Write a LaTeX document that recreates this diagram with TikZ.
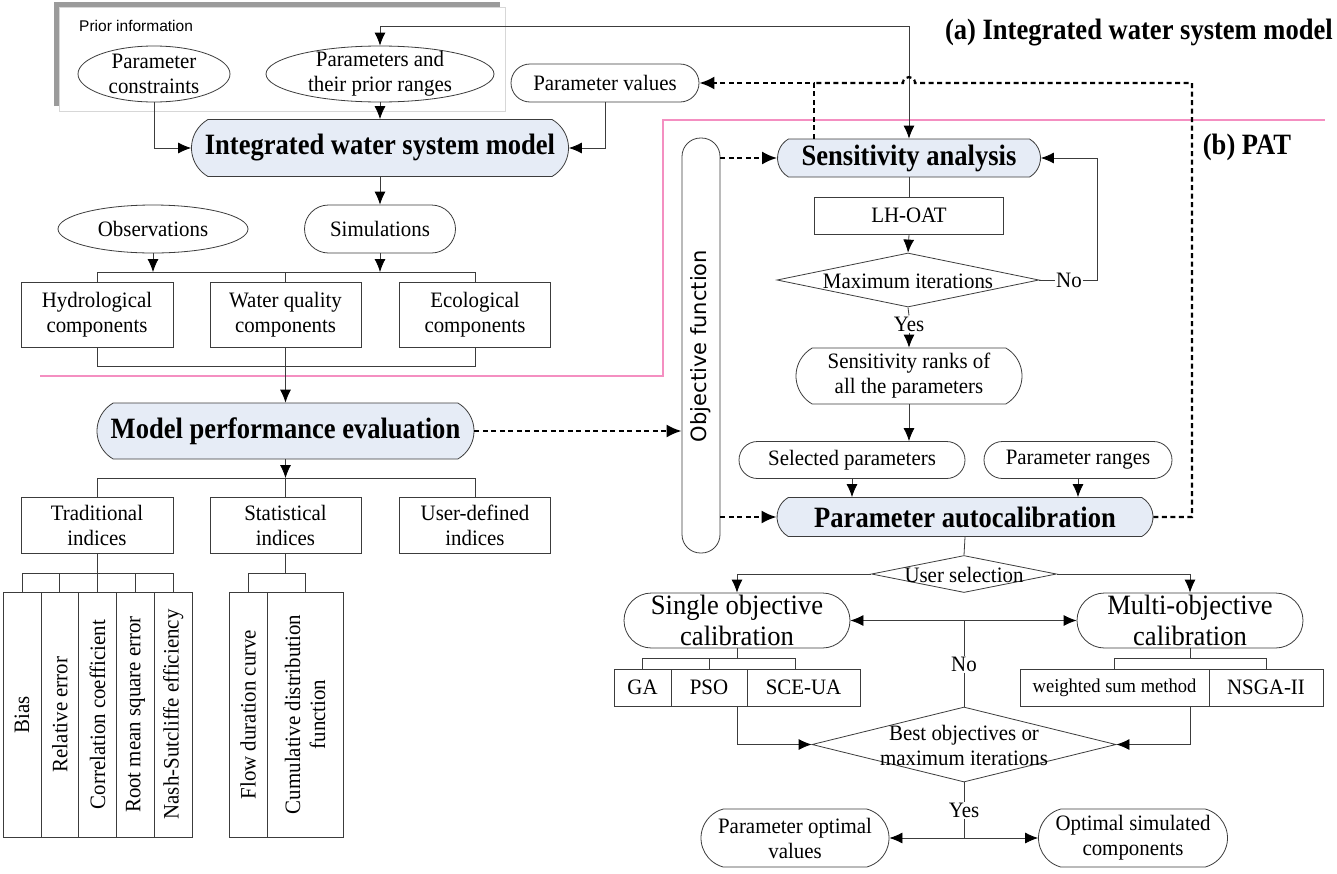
\documentclass[tikz,border=0pt]{standalone}
\usepackage{fontspec}
\setmainfont{Liberation Serif}
\newfontfamily\famBody[FakeStretch=0.95]{Liberation Serif}
\newfontfamily\famTitle[FakeStretch=0.9]{Liberation Serif}
\newfontfamily\famObj{DejaVu Sans}
\newfontfamily\famPrior{Liberation Sans}
\usetikzlibrary{shapes.geometric,shapes.misc,arrows.meta}
\definecolor{lgray}{RGB}{60,60,60}
\definecolor{bfill}{RGB}{230,236,246}
\definecolor{pinkc}{RGB}{244,143,193}
\definecolor{framegray}{RGB}{155,155,155}
\definecolor{thingray}{RGB}{215,215,215}
\tikzset{
  fbody/.style={font=\famBody\fontsize{22}{25}\selectfont},
  fbig/.style={font=\famBody\fontsize{28}{31}\selectfont},
  fsmall/.style={font=\famBody\fontsize{19.5}{22}\selectfont},
  ftitle/.style={font=\famTitle\bfseries\fontsize{29.5}{32}\selectfont},
  fobj/.style={font=\famObj\fontsize{21}{24}\selectfont},
  fprior/.style={font=\famPrior\fontsize{15.5}{18}\selectfont},
  base/.style={draw=lgray, line width=0.8pt, inner sep=0pt, align=center, fbody},
  rbox/.style={base, rectangle},
  ell/.style={base, ellipse},
  stad/.style={base, rounded rectangle, rounded rectangle arc length=180},
  stadB/.style={base, rounded rectangle, rounded rectangle arc length=120},
  titlebox/.style={base, rounded rectangle, rounded rectangle arc length=120, fill=bfill, ftitle},
  dia/.style={base, diamond},
  txt/.style={inner sep=0pt, align=center, fbody},
  lbl/.style={inner sep=1pt, fill=white, fbody},
  tline/.style={draw=lgray, line width=0.8pt},
  arr/.style={tline, -{Latex[length=13pt,width=11pt,color=black]}},
  arrtwo/.style={tline, {Latex[length=13pt,width=11pt,color=black]}-{Latex[length=13pt,width=11pt,color=black]}},
  dsh/.style={draw=black, line width=2.2pt, dash pattern=on 5pt off 3.5pt},
  darr/.style={dsh, -{Latex[length=15pt,width=13pt]}},
  pinkline/.style={draw=pinkc, line width=2.6pt},
}
\begin{document}
\begin{tikzpicture}[x=1pt,y=-1pt]
\useasboundingbox[fill=white] (0,0) rectangle (1337,873);

% ---- prior information frame
\draw[thingray, line width=0.8pt] (59,7.5) rectangle (505,111);
\draw[framegray, line width=5pt] (56,106) -- (56,4.5) -- (500,4.5);
\node[fprior, anchor=west, inner sep=0pt] (prior) at (79,26) {Prior information};

% ---- titles
\node[ftitle, anchor=east, inner sep=0pt] (ta) at (1333,33) {(a) Integrated water system model};
\node[ftitle, inner sep=0pt] (tb) at (1247,147) {(b) PAT};

% ---- pink separator
\draw[pinkline] (40,376) -- (663,376) -- (663,120) -- (1325,120);

% ---- part (a)
\node[ell, minimum width=152pt, minimum height=56pt] (pc) at (154,74) {};
\node[txt] (pct) at (pc) {Parameter\\constraints};
\node[ell, minimum width=228pt, minimum height=56pt] (pp) at (380,74) {};
\node[txt] (ppt) at (pp) {Parameters and\\their prior ranges};
\node[stad, minimum width=188pt, minimum height=38pt] (pv) at (605,83) {Parameter values};
\node[titlebox, minimum width=377pt, minimum height=57pt] (iwsm) at (380,148) {Integrated water system model};

\node[ell, minimum width=190pt, minimum height=48pt] (obs) at (153,229) {};
\node[txt] (obst) at (obs) {Observations};
\node[stad, minimum width=151pt, minimum height=48pt] (sim) at (380,229) {Simulations};

\node[rbox, minimum width=152pt, minimum height=65pt] (hyd) at (97,314.5) {Hydrological\\components};
\node[rbox, minimum width=151pt, minimum height=65pt] (wq) at (285.5,314.5) {Water quality\\components};
\node[rbox, minimum width=151pt, minimum height=65pt] (eco) at (475,314.5) {Ecological\\components};

\node[titlebox, minimum width=377pt, minimum height=56pt] (mpe) at (285.5,431) {Model performance evaluation};

\node[rbox, minimum width=152pt, minimum height=56pt] (trad) at (97,525) {Traditional\\indices};
\node[rbox, minimum width=151pt, minimum height=56pt] (stat) at (285.5,525) {Statistical\\indices};
\node[rbox, minimum width=151pt, minimum height=56pt] (user) at (475,525) {User-defined\\indices};

% vertical index boxes
\node[rbox, minimum width=37.8pt, minimum height=245pt] (v1) at (22,714.5) {};
\node[rbox, minimum width=37.8pt, minimum height=245pt] (v2) at (59.8,714.5) {};
\node[rbox, minimum width=37.8pt, minimum height=245pt] (v3) at (97.6,714.5) {};
\node[rbox, minimum width=37.8pt, minimum height=245pt] (v4) at (135.4,714.5) {};
\node[rbox, minimum width=37.8pt, minimum height=245pt] (v5) at (173.2,714.5) {};
\node[txt, rotate=90] (v1t) at (v1) {Bias};
\node[txt, rotate=90] (v2t) at (v2) {Relative error};
\node[txt, rotate=90] (v3t) at (v3) {Correlation coefficient};
\node[txt, rotate=90] (v4t) at (v4) {Root mean square error};
\node[txt, rotate=90] (v5t) at (v5) {Nash-Sutcliffe efficiency};
\node[rbox, minimum width=38pt, minimum height=245pt] (f1) at (248,714.5) {};
\node[rbox, minimum width=76pt, minimum height=245pt] (f2) at (305,714.5) {};
\node[txt, rotate=90] (f1t) at (f1) {Flow duration curve};
\node[txt, rotate=90] (f2t) at (f2) {Cumulative distribution\\function};

% ---- objective function
\node[base, rounded corners=18.5pt, minimum width=38pt, minimum height=415pt] (obj) at (701,345.5) {};
\node[fobj, rotate=90, inner sep=0pt] (objt) at (701,346) {Objective function};

% ---- part (b)
\node[titlebox, minimum width=263pt, minimum height=38pt] (sa) at (909,158) {Sensitivity analysis};
\node[rbox, minimum width=189pt, minimum height=37pt] (lh) at (909,215.5) {LH-OAT};
\node[dia, minimum width=262pt, minimum height=54pt] (mi) at (908,280) {};
\node[txt] (mit) at (908,281) {Maximum iterations};
\node[lbl] (no1) at (1069,280) {No};
\node[lbl] (yes1) at (909,324) {Yes};
\node[stadB, minimum width=226pt, minimum height=56pt] (sr) at (909,376) {Sensitivity ranks of\\all the parameters};
\node[stad, minimum width=226pt, minimum height=37pt] (sel) at (852,460) {Selected parameters};
\node[stad, minimum width=188pt, minimum height=37pt] (pr) at (1078,460) {Parameter ranges};
\node[titlebox, minimum width=376pt, minimum height=39pt] (pa) at (965,517) {Parameter autocalibration};

\node[dia, minimum width=185pt, minimum height=37pt] (us) at (964,574) {};
\node[txt] (ust) at (964,575) {User selection};

\node[stad, minimum width=226pt, minimum height=55pt] (soc) at (737,620.5) {};
\node[txt, fbig] (soct) at (soc) {Single objective\\calibration};
\node[stad, minimum width=226pt, minimum height=55pt] (moc) at (1190,620.5) {};
\node[txt, fbig] (moct) at (moc) {Multi-objective\\calibration};

\node[rbox, minimum width=57pt, minimum height=37pt] (ga) at (642.5,687.5) {GA};
\node[rbox, minimum width=76pt, minimum height=37pt] (pso) at (709,687.5) {PSO};
\node[rbox, minimum width=113pt, minimum height=37pt] (sce) at (803.5,687.5) {SCE-UA};
\node[rbox, minimum width=189pt, minimum height=37pt, fsmall] (wsm) at (1114.5,687.5) {weighted sum method};
\node[rbox, minimum width=114pt, minimum height=37pt] (nsga) at (1266,687.5) {NSGA-II};

\node[lbl] (no2) at (964,664) {No};
\node[dia, minimum width=304pt, minimum height=75pt] (bo) at (964,744.5) {};
\node[txt] (bot) at (964,745) {Best objectives or\\maximum iterations};
\node[lbl] (yes2) at (964,810) {Yes};
\node[stad, rounded rectangle arc length=150, minimum width=188pt, minimum height=58pt] (pov) at (795,838) {Parameter optimal\\values};
\node[stad, rounded rectangle arc length=150, minimum width=189pt, minimum height=58pt] (osc) at (1133,838) {Optimal simulated\\components};

% ---- helper coordinates
\coordinate (tc) at (909,26);
\coordinate (b1) at (285.5,272);
\coordinate (b2) at (285.5,366);
\coordinate (b3) at (285.5,478);
\coordinate (b4) at (97,573);
\coordinate (b5) at (285.5,573);
\coordinate (nc) at (1097,280);
\coordinate (dr) at (1192,83);
\coordinate (dl) at (814,83);
\coordinate (b6) at (737,658);
\coordinate (b7) at (1190,658);
\coordinate (sx) at (795,0);
\coordinate (yc) at (964,838);

% ---- connectors part (a)
\draw[arr] (tc) -| (pp.north);
\draw[arr] (tc) -- (sa.north);
\draw[arr] (pp.south) -- (iwsm.north);
\draw[arr] (pc.south) |- (iwsm.west);
\draw[arr] (pv.south) |- (iwsm.east);
\draw[arr] (iwsm.south) -- (sim.north);
\draw[arr] (obs.south) -- (obs.south |- b1);
\draw[arr] (sim.south) -- (sim.south |- b1);
\draw[tline] (hyd.north) -- (hyd.north |- b1) -- (eco.north |- b1) -- (eco.north);
\draw[tline] (wq.north) -- (wq.north |- b1);
\draw[tline] (hyd.south) -- (hyd.south |- b2) -- (eco.south |- b2) -- (eco.south);
\draw[arr] (wq.south) -- (mpe.north);
\draw[arr] (mpe.south) -- (b3);
\draw[tline] (trad.north) -- (trad.north |- b3) -- (user.north |- b3) -- (user.north);
\draw[tline] (stat.north) -- (b3);
\draw[tline] (trad.south) -- (b4);
\draw[tline] (v1.north) -- (v1.north |- b4) -- (v5.north |- b4) -- (v5.north);
\draw[tline] (v2.north) -- (v2.north |- b4);
\draw[tline] (v3.north) -- (v3.north |- b4);
\draw[tline] (v4.north) -- (v4.north |- b4);
\draw[tline] (stat.south) -- (b5);
\draw[tline] (f1.north) -- (f1.north |- b5) -- (f2.north |- b5) -- (f2.north);

% ---- dashed objective-function links
\draw[darr] (mpe.east) -- (mpe.east -| obj.west);
\draw[darr] (obj.east |- sa.west) -- (sa.west);
\draw[darr] (obj.east |- pa.west) -- (pa.west);
\draw[dsh] (pa.east) -- (pa.east -| dr) -- (dr) -- (915,83) .. controls (915,75) and (903,75) .. (903,83) -- (dl);
\draw[darr] (sa.north -| dl) -- (dl) -- (pv.east);

% ---- connectors part (b)
\draw[tline] (sa.south) -- (lh.north);
\draw[arr] (lh.south) -- (mi.north);
\draw[tline] (mi.east) -- (no1.west);
\draw[arr] (no1.east) -- (nc) |- (sa.east);
\draw[tline] (mi.south) -- (yes1.north);
\draw[arr] (yes1.south) -- (sr.north);
\draw[arr] (sr.south) -- (sr.south |- sel.north);
\draw[arr] (sel.south) -- (sel.south |- pa.north);
\draw[arr] (pr.south) -- (pr.south |- pa.north);
\draw[tline] (pa.south) -- (us.north);
\draw[arr] (us.west) -| (soc.north);
\draw[arr] (us.east) -| (moc.north);
\draw[arrtwo] (soc.east) -- (moc.west);
\draw[tline] (no2.north) -- (no2.north |- soc.east);
\draw[tline] (no2.south) -- (bo.north);
\draw[tline] (soc.south) -- (b6);
\draw[tline] (ga.north) -- (ga.north |- b6) -- (sx |- b6) -- (sx |- sce.north);
\draw[tline] (pso.north) -- (pso.north |- b6);
\draw[tline] (moc.south) -- (b7);
\draw[tline] (wsm.north) -- (wsm.north |- b7) -- (nsga.north |- b7) -- (nsga.north);
\draw[arr] (pso.south -| soc.south) |- (bo.west);
\draw[arr] (wsm.south -| moc.south) |- (bo.east);
\draw[tline] (bo.south) -- (yes2.north);
\draw[tline] (yes2.south) -- (yc);
\draw[arr] (yc) -- (pov.east);
\draw[arr] (yc) -- (osc.west);
\end{tikzpicture}
\end{document}
